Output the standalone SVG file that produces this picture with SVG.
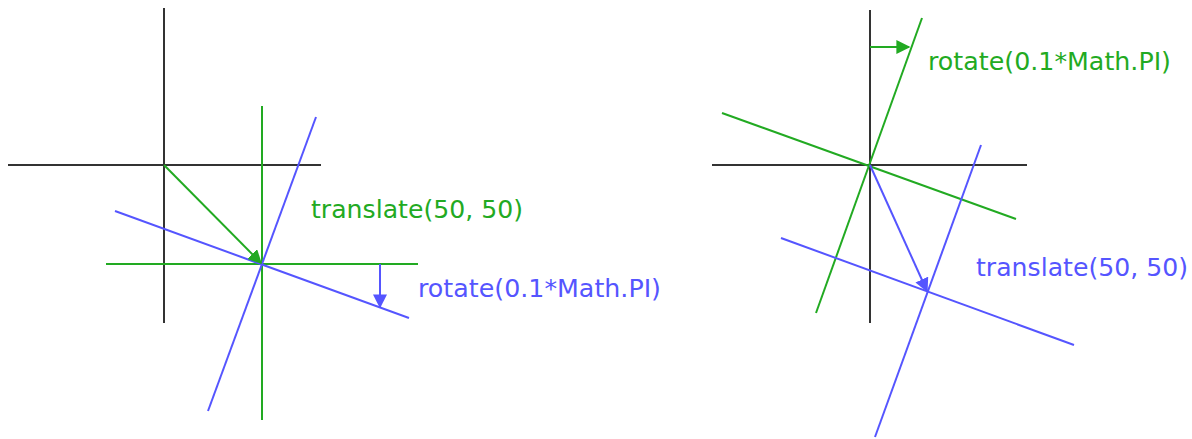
<svg xmlns="http://www.w3.org/2000/svg" width="1192" height="439" viewBox="0 0 1192 439">
<style>
.k{stroke:#333;stroke-width:2;fill:none}
.g{stroke:#22aa22;stroke-width:2;fill:none}
.b{stroke:#5555ff;stroke-width:2;fill:none}
.tg{fill:#22aa22;font-family:"DejaVu Sans",sans-serif;font-size:24px}
.tb{fill:#5555ff;font-family:"DejaVu Sans",sans-serif;font-size:24px}
</style>
<defs>
<marker id="ag" viewBox="0 0 10 10" refX="9" refY="5" markerWidth="7" markerHeight="7" orient="auto" markerUnits="strokeWidth"><path d="M0,0 L10,5 L0,10 z" fill="#22aa22"/></marker>
<marker id="ab" viewBox="0 0 10 10" refX="9" refY="5" markerWidth="7" markerHeight="7" orient="auto" markerUnits="strokeWidth"><path d="M0,0 L10,5 L0,10 z" fill="#5555ff"/></marker>
</defs>
<rect width="1192" height="439" fill="#fff"/>
<g id="left-axes">
<line class="k" x1="8" y1="165" x2="321" y2="165"/>
<line class="k" x1="164" y1="8" x2="164" y2="323"/>
<line class="g" x1="106" y1="264" x2="418" y2="264"/>
<line class="g" x1="262" y1="106" x2="262" y2="420"/>
<line class="b" x1="115" y1="211" x2="409" y2="318"/>
<line class="b" x1="316" y1="117" x2="208" y2="411"/>
</g>
<g id="right-axes">
<line class="k" x1="712" y1="165" x2="1027" y2="165"/>
<line class="k" x1="870" y1="10" x2="870" y2="323"/>
<line class="g" x1="722" y1="113" x2="1016" y2="219"/>
<line class="g" x1="922" y1="18" x2="816" y2="313"/>
<line class="b" x1="781" y1="238" x2="1074" y2="345"/>
<line class="b" x1="981" y1="145" x2="875" y2="437"/>
</g>
<g id="connectors">
<line class="g" x1="164" y1="165" x2="261" y2="263" marker-end="url(#ag)"/>
<line class="b" x1="380" y1="264" x2="380" y2="307" marker-end="url(#ab)"/>
<line class="g" x1="870" y1="47" x2="909" y2="47" marker-end="url(#ag)"/>
<line class="b" x1="870" y1="165" x2="927" y2="291" marker-end="url(#ab)"/>
</g>
<g id="labels">
<text class="tg" x="311" y="218" textLength="212" lengthAdjust="spacingAndGlyphs">translate(50, 50)</text>
<text class="tb" x="418" y="297" textLength="243" lengthAdjust="spacingAndGlyphs">rotate(0.1*Math.PI)</text>
<text class="tg" x="928" y="70" textLength="243" lengthAdjust="spacingAndGlyphs">rotate(0.1*Math.PI)</text>
<text class="tb" x="976" y="276" textLength="212" lengthAdjust="spacingAndGlyphs">translate(50, 50)</text>
</g>
</svg>
